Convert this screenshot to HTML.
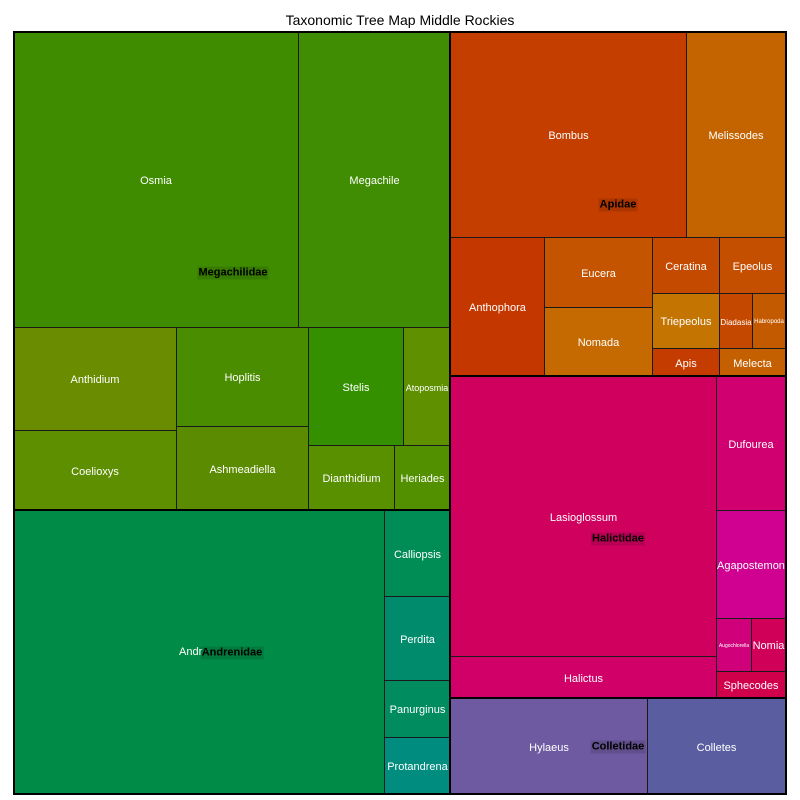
<!DOCTYPE html>
<html><head><meta charset="utf-8"><style>
body{margin:0;background:#fff;width:800px;height:800px;overflow:hidden;font-family:"Liberation Sans",sans-serif;}
#t{position:absolute;left:0;top:12px;width:800px;text-align:center;font-size:14px;color:#000;}
.c{position:absolute;box-sizing:border-box;border:1px solid #1a1a1a;color:#fff;font-size:11px;display:flex;align-items:center;justify-content:center;white-space:nowrap;overflow:hidden;padding-top:2px;}
.f{position:absolute;box-sizing:border-box;border:2px solid #000;pointer-events:none;}
.l{position:absolute;font-size:11px;font-weight:bold;color:#000;background:rgba(0,0,0,0.12);padding:0 1px;line-height:13px;transform:translate(-50%,-50%);white-space:nowrap;}
</style></head><body>
<div id="t">Taxonomic Tree Map Middle Rockies</div>
<div class="c" style="left:13px;top:31px;width:286px;height:297px;background:#3f8c00">Osmia</div>
<div class="c" style="left:298px;top:31px;width:153px;height:297px;background:#408c02">Megachile</div>
<div class="c" style="left:13px;top:327px;width:164px;height:104px;background:#6a8c00">Anthidium</div>
<div class="c" style="left:13px;top:430px;width:164px;height:81px;background:#5e8f00">Coelioxys</div>
<div class="c" style="left:176px;top:327px;width:133px;height:100px;background:#4b8d00">Hoplitis</div>
<div class="c" style="left:176px;top:426px;width:133px;height:85px;background:#5b8b00">Ashmeadiella</div>
<div class="c" style="left:308px;top:327px;width:96px;height:119px;background:#359000">Stelis</div>
<div class="c" style="left:403px;top:327px;width:48px;height:119px;background:#5e9000;font-size:9px">Atoposmia</div>
<div class="c" style="left:308px;top:445px;width:87px;height:66px;background:#589000">Dianthidium</div>
<div class="c" style="left:394px;top:445px;width:57px;height:66px;background:#529000">Heriades</div>
<div class="c" style="left:13px;top:510px;width:372px;height:285px;background:#008c46"></div>
<div class="c" style="left:384px;top:510px;width:67px;height:87px;background:#008c55">Calliopsis</div>
<div class="c" style="left:384px;top:596px;width:67px;height:85px;background:#008c6c">Perdita</div>
<div class="c" style="left:384px;top:680px;width:67px;height:58px;background:#008c5f">Panurginus</div>
<div class="c" style="left:384px;top:737px;width:67px;height:58px;background:#008c7e">Protandrena</div>
<div class="c" style="left:450px;top:31px;width:237px;height:207px;background:#c43e00">Bombus</div>
<div class="c" style="left:686px;top:31px;width:100px;height:207px;background:#c46400">Melissodes</div>
<div class="c" style="left:450px;top:237px;width:95px;height:140px;background:#c43800">Anthophora</div>
<div class="c" style="left:544px;top:237px;width:109px;height:71px;background:#c45400">Eucera</div>
<div class="c" style="left:544px;top:307px;width:109px;height:70px;background:#c46a00">Nomada</div>
<div class="c" style="left:652px;top:237px;width:68px;height:57px;background:#c44a00">Ceratina</div>
<div class="c" style="left:719px;top:237px;width:67px;height:57px;background:#c44f00">Epeolus</div>
<div class="c" style="left:652px;top:293px;width:68px;height:56px;background:#c47400">Triepeolus</div>
<div class="c" style="left:719px;top:293px;width:34px;height:56px;background:#c44800;font-size:8px">Diadasia</div>
<div class="c" style="left:752px;top:293px;width:34px;height:56px;background:#c45a00;font-size:6px">Habropoda</div>
<div class="c" style="left:652px;top:348px;width:68px;height:29px;background:#c43c00">Apis</div>
<div class="c" style="left:719px;top:348px;width:67px;height:29px;background:#c46000">Melecta</div>
<div class="c" style="left:450px;top:376px;width:267px;height:281px;background:#d0005f">Lasioglossum</div>
<div class="c" style="left:450px;top:656px;width:267px;height:43px;background:#d00068">Halictus</div>
<div class="c" style="left:716px;top:376px;width:70px;height:135px;background:#d00070">Dufourea</div>
<div class="c" style="left:716px;top:510px;width:70px;height:109px;background:#d00090">Agapostemon</div>
<div class="c" style="left:716px;top:618px;width:36px;height:54px;background:#d0007a;font-size:5px">Augochlorella</div>
<div class="c" style="left:751px;top:618px;width:35px;height:54px;background:#d00058">Nomia</div>
<div class="c" style="left:716px;top:671px;width:70px;height:28px;background:#d0004a">Sphecodes</div>
<div class="c" style="left:450px;top:698px;width:198px;height:97px;background:#6e5aa0">Hylaeus</div>
<div class="c" style="left:647px;top:698px;width:139px;height:97px;background:#5a5ea0">Colletes</div>
<div class="f" style="left:13px;top:31px;width:438px;height:480px"></div>
<div class="f" style="left:13px;top:509px;width:438px;height:286px"></div>
<div class="f" style="left:449px;top:31px;width:338px;height:346px"></div>
<div class="f" style="left:449px;top:375px;width:338px;height:324px"></div>
<div class="f" style="left:449px;top:697px;width:338px;height:98px"></div>
<div class="f" style="left:13px;top:31px;width:774px;height:764px"></div>
<div style="position:absolute;left:179px;top:646px;font-size:11px;color:#fff;line-height:13px">Andr</div>
<div class="l" style="left:233px;top:273px">Megachilidae</div>
<div class="l" style="left:618px;top:205px">Apidae</div>
<div class="l" style="left:232px;top:653px">Andrenidae</div>
<div class="l" style="left:618px;top:539px">Halictidae</div>
<div class="l" style="left:618px;top:747px">Colletidae</div>
</body></html>
